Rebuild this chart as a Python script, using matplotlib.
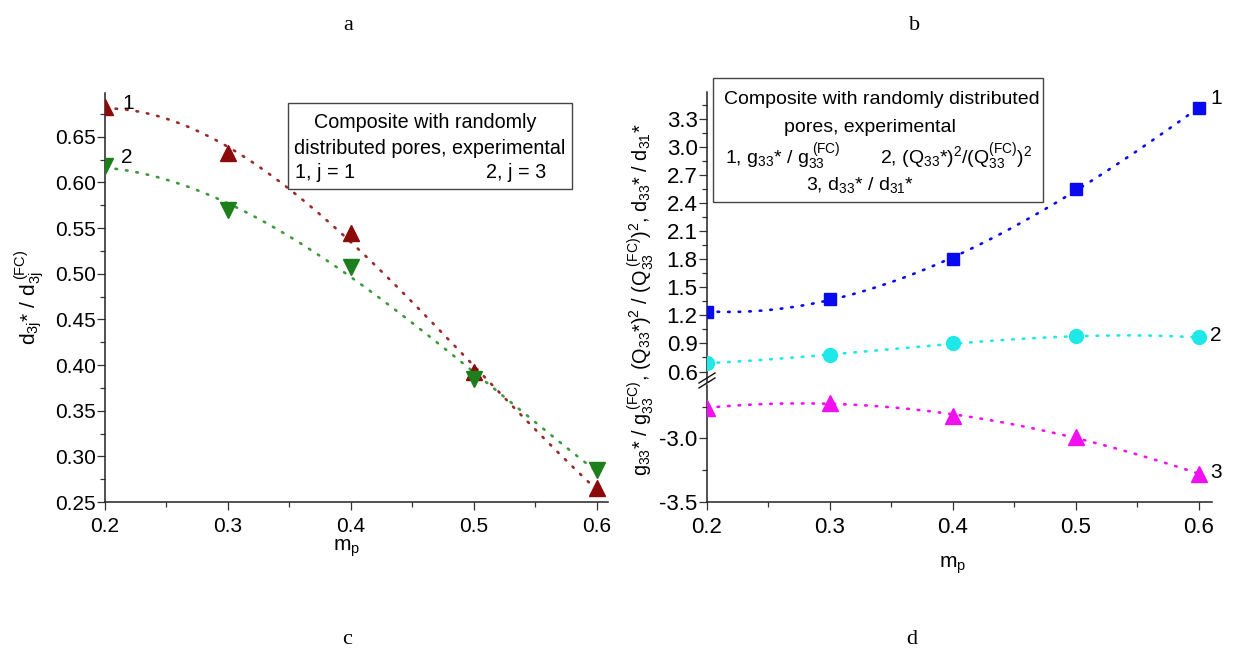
import matplotlib
matplotlib.use('Agg')
import matplotlib.pyplot as plt
import numpy as np
from matplotlib.ticker import MultipleLocator, FormatStrFormatter
from matplotlib.lines import Line2D
from matplotlib.patches import Rectangle

plt.rcParams['font.family'] = ['Liberation Sans', 'DejaVu Sans']
plt.rcParams['mathtext.fontset'] = 'custom'
plt.rcParams['mathtext.rm'] = 'Liberation Sans'
plt.rcParams['mathtext.it'] = 'Liberation Sans:italic'
plt.rcParams['mathtext.bf'] = 'Liberation Sans:bold'
plt.rcParams['axes.unicode_minus'] = False

# ---------------- data ----------------
mp = [0.2, 0.3, 0.4, 0.5, 0.6]
# panel c
d31_ratio = [0.683, 0.632, 0.545, 0.392, 0.265]   # 1, j = 1
d33_ratio = [0.618, 0.570, 0.507, 0.385, 0.285]   # 2, j = 3
# panel d
g33_ratio = [1.24, 1.38, 1.80, 2.55, 3.42]        # 1
Q33_ratio = [0.69, 0.78, 0.90, 0.975, 0.965]      # 2
d33_d31 = [-2.76, -2.72, -2.82, -2.99, -3.28]     # 3

W, H = 1235, 654
fig = plt.figure(figsize=(W / 100, H / 100), dpi=100)


def fx(px):
    return px / W


def fy(py):
    return 1 - py / H


def style_axes(ax, hide_bottom=False):
    for s in ['top', 'right']:
        ax.spines[s].set_visible(False)
    for s in ['left', 'bottom']:
        ax.spines[s].set_linewidth(1.1)
        ax.spines[s].set_color('#222222')
    if hide_bottom:
        ax.spines['bottom'].set_visible(False)
        ax.tick_params(axis='x', which='both', bottom=False, labelbottom=False)
    ax.tick_params(which='major', direction='out', length=5.8, width=0.9, color='#333333', pad=1)
    ax.tick_params(which='minor', direction='out', length=3.6, width=0.9, color='#333333')
    ax.tick_params(axis='x', which='major', pad=5)


def fit_curve(ax, x, y, color, lw=1.9):
    xs = np.linspace(min(x), max(x), 200)
    p = np.polyfit(x, y, 3)
    ax.plot(xs, np.polyval(p, xs), color=color, lw=lw,
            linestyle=(0, (0.6, 3.4)), dash_capstyle='round', zorder=2)


# ---------------- panel c (left) ----------------
axL = fig.add_axes([fx(105), fy(502), fx(503), (502 - 93) / H])
axL.set_xlim(0.2, 0.609)
axL.set_ylim(0.25, 0.698)
style_axes(axL)
axL.xaxis.set_major_locator(MultipleLocator(0.1))
axL.xaxis.set_minor_locator(MultipleLocator(0.05))
axL.xaxis.set_major_formatter(FormatStrFormatter('%.1f'))
axL.yaxis.set_major_locator(MultipleLocator(0.05))
axL.yaxis.set_minor_locator(MultipleLocator(0.025))
axL.yaxis.set_major_formatter(FormatStrFormatter('%.2f'))
axL.tick_params(labelsize=15)

red = '#8B0A0A'
green = '#1C7F1C'
fit_curve(axL, mp, d31_ratio, '#9A2A2A')
fit_curve(axL, mp, d33_ratio, '#3C9A3C')
axL.plot(mp, d31_ratio, linestyle='none', marker='^', ms=11, color=red, mec=red, zorder=3)
axL.plot(mp, d33_ratio, linestyle='none', marker='v', ms=11, color=green, mec=green, zorder=3)

axL.annotate('1', (mp[0], d31_ratio[0]), xytext=(23, 3), textcoords='offset pixels',
             ha='center', va='center', fontsize=15)
axL.annotate('2', (mp[0], d33_ratio[0]), xytext=(22, 9), textcoords='offset pixels',
             ha='center', va='center', fontsize=15)

fig.text(fx(30), fy(297), r'$\mathrm{d_{3j}}$* / $\mathrm{d_{3j}^{\ (FC)}}$',
         rotation=90, ha='center', va='center', fontsize=15)
fig.text(fx(347), fy(548), r'$\mathrm{m_{p}}$', ha='center', va='center', fontsize=15)

# legend box c
fig.add_artist(Rectangle((fx(288), fy(189)), fx(284), (189 - 103) / H, transform=fig.transFigure,
                         fill=False, edgecolor='#444444', lw=1.0))
fig.text(fx(425), fy(122), 'Composite with randomly', ha='center', va='center', fontsize=14.2)
fig.text(fx(429.5), fy(148), 'distributed pores, experimental', ha='center', va='center', fontsize=14.2)
fig.text(fx(295), fy(173), '1, j = 1', ha='left', va='center', fontsize=14.2)
fig.text(fx(546), fy(173), '2, j = 3', ha='right', va='center', fontsize=14.2)

# ---------------- panel d (right, broken axis) ----------------
axU = fig.add_axes([fx(707), fy(382), fx(505), (382 - 92) / H])
axB = fig.add_axes([fx(707), fy(502), fx(505), (502 - 385) / H])
for ax in (axU, axB):
    ax.set_xlim(0.2, 0.6106)
    ax.xaxis.set_major_locator(MultipleLocator(0.1))
    ax.xaxis.set_minor_locator(MultipleLocator(0.05))
    ax.xaxis.set_major_formatter(FormatStrFormatter('%.1f'))
    ax.yaxis.set_major_formatter(FormatStrFormatter('%.1f'))
style_axes(axU, hide_bottom=True)
style_axes(axB)
axU.set_ylim(0.488, 3.589)
axB.set_ylim(-3.5, -2.579)
axU.yaxis.set_major_locator(MultipleLocator(0.3))
axU.yaxis.set_minor_locator(MultipleLocator(0.15))
axB.yaxis.set_major_locator(MultipleLocator(0.5))
axB.yaxis.set_minor_locator(MultipleLocator(0.25))
axU.tick_params(labelsize=16)
axB.tick_params(labelsize=16)

blue = '#0A0AF0'
cyan = '#1EE8E8'
magenta = '#F010F0'
fit_curve(axU, mp, g33_ratio, blue)
fit_curve(axU, mp, Q33_ratio, cyan)
fit_curve(axB, mp, d33_d31, magenta)
axU.plot(mp, g33_ratio, linestyle='none', marker='s', ms=9, color=blue, mec=blue, zorder=3)
axU.plot(mp, Q33_ratio, linestyle='none', marker='o', ms=10, color=cyan, mec=cyan, zorder=3)
axB.plot(mp, d33_d31, linestyle='none', marker='^', ms=11, color=magenta, mec=magenta, zorder=3)

axU.annotate('1', (mp[-1], g33_ratio[-1]), xytext=(17, 9), textcoords='offset pixels',
             ha='center', va='center', fontsize=15, annotation_clip=False)
axU.annotate('2', (mp[-1], Q33_ratio[-1]), xytext=(17, 2), textcoords='offset pixels',
             ha='center', va='center', fontsize=15, annotation_clip=False)
axB.annotate('3', (mp[-1], d33_d31[-1]), xytext=(17, 2), textcoords='offset pixels',
             ha='center', va='center', fontsize=15, annotation_clip=False)

# axis break marks
for dy in (0, 5):
    fig.add_artist(Line2D([fx(699), fx(715)], [fy(388 + dy - 5), fy(378 + dy - 5)],
                          transform=fig.transFigure, color='#111111', lw=1.0))

fig.text(fx(641), fy(300),
         r'$\mathrm{g_{33}}$* / $\mathrm{g_{33}^{\ (FC)}}$, $\mathrm{(Q_{33}}$*$\mathrm{)^{2}}$'
         r' / $\mathrm{(Q_{33}^{\ (FC)})^{2}}$, $\mathrm{d_{33}}$* / $\mathrm{d_{31}}$*',
         rotation=90, ha='center', va='center', fontsize=14.3)
fig.text(fx(953), fy(565), r'$\mathrm{m_{p}}$', ha='center', va='center', fontsize=15)

# legend box d
fig.add_artist(Rectangle((fx(713), fy(202)), fx(330), (202 - 78) / H, transform=fig.transFigure,
                         fill=False, edgecolor='#444444', lw=1.0))
fig.text(fx(882), fy(100), 'Composite with randomly distributed', ha='center', va='center', fontsize=14)
fig.text(fx(870), fy(128), 'pores, experimental', ha='center', va='center', fontsize=14)
fig.text(fx(725), fy(157), r'1, $\mathrm{g_{33}}$* / $\mathrm{g_{33}^{\ (FC)}}$',
         ha='left', va='center', fontsize=14)
fig.text(fx(1032), fy(157), r'2, $\mathrm{(Q_{33}}$*$\mathrm{)^{2}}$/$\mathrm{(Q_{33}^{(FC)})^{2}}$',
         ha='right', va='center', fontsize=14)
fig.text(fx(860), fy(185), r'3, $\mathrm{d_{33}}$* / $\mathrm{d_{31}}$*',
         ha='center', va='center', fontsize=14)

# panel letters
for letter, (px, py) in zip(['a', 'b', 'c', 'd'], [(348, 25), (915, 25), (347, 640), (912, 640)]):
    fig.text(fx(px), fy(py), letter, ha='center', va='center', fontsize=16,
             family=['Liberation Serif', 'DejaVu Serif'])

fig.savefig('out.png', dpi=100)
